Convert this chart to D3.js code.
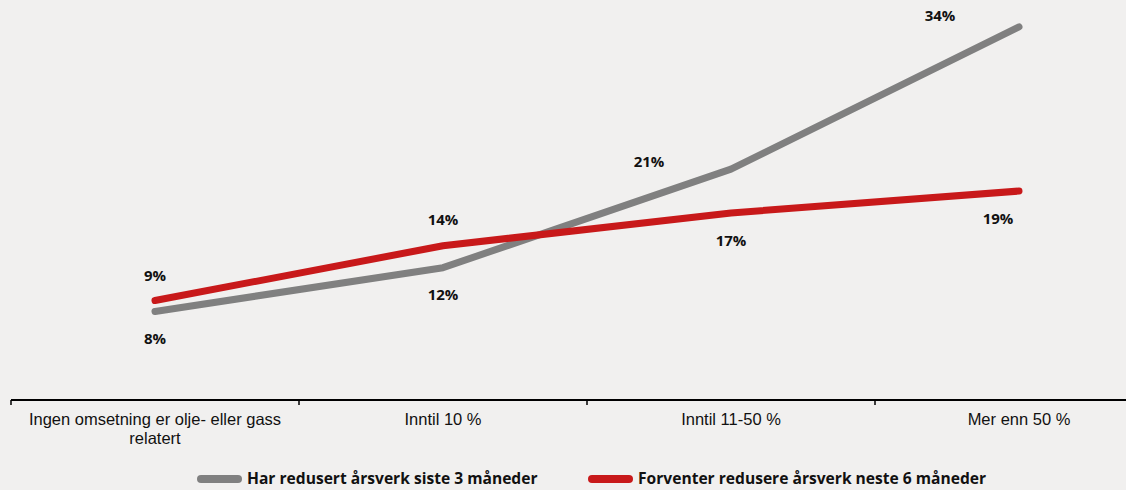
<!DOCTYPE html>
<html><head><meta charset="utf-8">
<script src="https://cdn.jsdelivr.net/npm/d3@7"></script>
<style>
html,body{margin:0;padding:0;background:#f1f0ef;}
svg{display:block;font-family:"Open Sans",sans-serif;}
</style></head>
<body>
<svg id="c" width="1126" height="490"></svg>
<script>
const categories = ["Ingen omsetning er olje- eller gass relatert", "Inntil 10 %", "Inntil 11-50 %", "Mer enn 50 %"];
const seriesNames = ["Har redusert årsverk siste 3 måneder", "Forventer redusere årsverk neste 6 måneder"];
const grayValues = [8, 12, 21, 34];
const redValues = [9, 14, 17, 19];
const colors = ["#808080", "#c8191a"];

// label placement (style): dx, dy relative to point
const grayLabelOffsets = [[0, 27], [0, 27], [-82, -7], [-79, -11]];
const redLabelOffsets = [[0, -25], [0, -26], [0, 28], [-21, 28]];

const svg = d3.select("#c");
const x = d3.scaleBand().domain(categories).range([11, 1163]);
const y = d3.scaleLinear().domain([0, 36]).range([399, 5]);

// axis
const gAx = svg.append("g").attr("transform", "translate(0,400)");
gAx.append("line").attr("x1", 11).attr("x2", 1126).attr("stroke", "#000").attr("stroke-width", 2);
const edges = categories.map(c => x(c));
gAx.selectAll("line.tk").data(edges).join("line").attr("class", "tk")
  .attr("x1", d => d).attr("x2", d => d).attr("y1", 0).attr("y2", 5)
  .attr("stroke", "#000").attr("stroke-width", 1.5);

const labels = gAx.selectAll("text.cat").data(categories).join("text")
  .attr("class", "cat")
  .attr("text-anchor", "middle")
  .attr("font-family", "'Liberation Sans', Arial, sans-serif")
  .attr("font-size", 16.5)
  .attr("fill", "#111");
labels.each(function(d){
  const t = d3.select(this);
  const cx = x(d) + x.bandwidth()/2;
  const lines = d === categories[0] ? ["Ingen omsetning er olje- eller gass", "relatert"] : [d];
  lines.forEach((ln, i) => t.append("tspan").attr("x", cx).attr("y", 25 + i*19).text(ln));
});

const line = d3.line().x((d,i) => x(categories[i]) + x.bandwidth()/2).y(d => y(d));
const series = [grayValues, redValues];
series.forEach((vals, si) => {
  svg.append("path").datum(vals).attr("d", line)
    .attr("fill", "none").attr("stroke", colors[si]).attr("stroke-width", 7)
    .attr("stroke-linecap", "round").attr("stroke-linejoin", "round");
});

const offs = [grayLabelOffsets, redLabelOffsets];
series.forEach((vals, si) => {
  svg.selectAll(null).data(vals).join("text")
    .attr("x", (d,i) => x(categories[i]) + x.bandwidth()/2 + offs[si][i][0])
    .attr("y", (d,i) => y(d) + offs[si][i][1])
    .attr("dy", "0.35em")
    .attr("text-anchor", "middle")
    .attr("font-size", 15).attr("font-weight", "bold").attr("fill", "#111")
    .text(d => d + "%");
});

// legend
const legX = [197, 588];
seriesNames.forEach((n, i) => {
  const g = svg.append("g").attr("transform", `translate(${legX[i]},479)`);
  g.append("line").attr("x1", 4).attr("x2", 41).attr("stroke", colors[i])
    .attr("stroke-width", 8).attr("stroke-linecap", "round");
  g.append("text").attr("x", 50).attr("dy", "0.35em").attr("font-size", 15.6)
    .attr("font-weight", "bold").attr("fill", "#111").text(n);
});
</script>
</body></html>
